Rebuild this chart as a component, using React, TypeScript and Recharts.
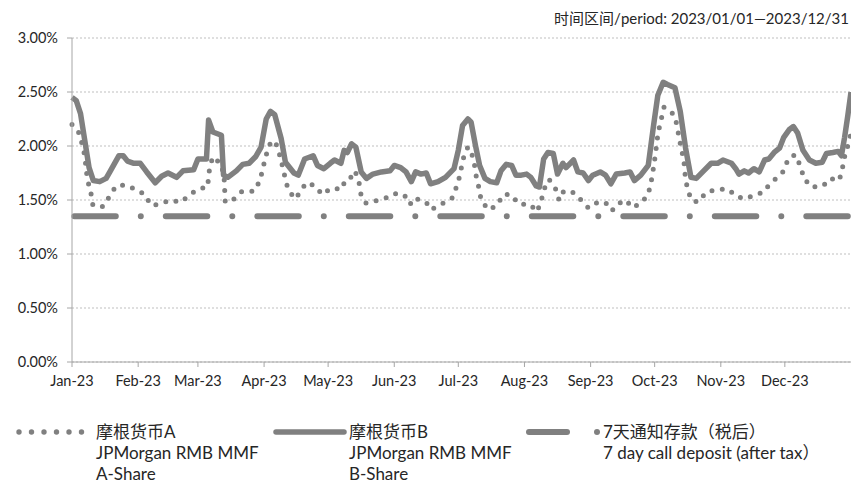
import { CartesianGrid, Line, LineChart, XAxis, YAxis } from 'recharts';

// day of year (0 = 2023-01-01) and yield in %
const bDays = [0, 2, 4, 6, 8, 10, 13, 16, 18, 22, 24, 26, 29, 32, 35, 39, 42, 45, 49, 52, 57, 59, 63, 64, 66, 70, 71, 73, 77, 80, 83, 86, 88.6, 91, 93, 95, 98, 100, 104, 106, 109, 113, 115, 118, 121, 123, 126, 127.5, 129, 131, 133, 135.5, 138, 141, 145, 149, 151, 154, 156.5, 159, 161, 163.5, 166, 168, 171.5, 175, 179, 181, 183, 185.5, 187, 189, 191, 193.5, 196, 199, 201, 203.5, 206, 208, 210.5, 213, 215, 217.5, 219, 221, 223, 225.5, 227.5, 230, 231.5, 235, 237, 239.5, 242, 244, 247.5, 250, 252.5, 255, 259, 261.5, 263.5, 266.5, 270, 272.5, 274.5, 277, 279, 282.5, 285, 287.5, 290, 292.5, 295.5, 299.5, 302.5, 305, 309, 311, 312.5, 315, 317, 319.5, 322, 324.5, 326.5, 329, 331.5, 333.5, 336, 338, 340, 342.5, 345.5, 348.5, 351.5, 353.5, 356.5, 359, 360.5, 362, 363.5, 365];
const bValues = [2.45, 2.42, 2.3, 2.05, 1.8, 1.68, 1.67, 1.7, 1.77, 1.91, 1.91, 1.86, 1.84, 1.84, 1.76, 1.66, 1.72, 1.75, 1.71, 1.77, 1.78, 1.88, 1.88, 2.24, 2.13, 2.1, 1.73, 1.71, 1.77, 1.83, 1.84, 1.9, 1.99, 2.25, 2.32, 2.29, 2.07, 1.85, 1.75, 1.73, 1.88, 1.91, 1.82, 1.79, 1.84, 1.87, 1.84, 1.96, 1.94, 2.02, 1.99, 1.76, 1.7, 1.74, 1.76, 1.77, 1.82, 1.8, 1.76, 1.67, 1.76, 1.74, 1.75, 1.65, 1.67, 1.71, 1.79, 1.96, 2.19, 2.25, 2.22, 2.01, 1.82, 1.7, 1.67, 1.66, 1.77, 1.83, 1.82, 1.73, 1.73, 1.74, 1.71, 1.63, 1.62, 1.88, 1.94, 1.93, 1.74, 1.84, 1.8, 1.87, 1.76, 1.75, 1.68, 1.73, 1.76, 1.73, 1.65, 1.74, 1.75, 1.76, 1.68, 1.73, 1.82, 2.19, 2.47, 2.59, 2.57, 2.54, 2.32, 1.98, 1.71, 1.7, 1.76, 1.84, 1.84, 1.87, 1.84, 1.79, 1.74, 1.77, 1.75, 1.79, 1.76, 1.87, 1.88, 1.94, 1.98, 2.08, 2.15, 2.18, 2.12, 1.96, 1.87, 1.84, 1.85, 1.93, 1.94, 1.95, 1.91, 2.08, 2.28, 2.5];

const aDays = [0, 3.3, 4.7, 6.1, 6.6, 7.5, 8.9, 9.8, 14.5, 17.8, 20.6, 24.8, 29.5, 34.2, 37, 40.8, 45.9, 51, 55.3, 59, 63.5, 64.5, 66, 70, 71.3, 71.8, 75.4, 79.7, 85.3, 88.1, 89.5, 90.9, 92.3, 95.1, 97, 98.4, 99.8, 101.2, 104.5, 106.8, 109.7, 113.9, 117.2, 121.4, 126.5, 127.9, 130.3, 132.6, 134.5, 135.4, 137.8, 142, 147.1, 150.9, 155.6, 158.4, 160.3, 165.9, 168.2, 172.9, 178.1, 179.9, 181.8, 182.8, 184.2, 185.6, 187, 188.4, 189.3, 190.7, 191.7, 195, 199.2, 202, 205.7, 209.5, 214.6, 217.9, 219.8, 221.2, 223.5, 226.3, 228.2, 229.6, 232.4, 235.7, 238.5, 241.8, 244.1, 249.8, 253, 255.4, 259.6, 262.4, 266.6, 269.9, 271.3, 272.3, 273.2, 274.6, 277.4, 282.1, 283.5, 284.5, 285.8, 286.8, 287.3, 288.2, 290.1, 293.4, 297.1, 302.3, 307.4, 311.6, 315.8, 320, 323.8, 326.6, 329.9, 333.6, 335.5, 338.8, 341.2, 343, 346.3, 351.9, 355.2, 359.4, 360.8, 361.7, 363.6, 365];
const aValues = [2.2, 2.12, 2.02, 1.9, 1.78, 1.67, 1.56, 1.45, 1.44, 1.54, 1.63, 1.64, 1.6, 1.55, 1.45, 1.46, 1.5, 1.48, 1.55, 1.6, 1.62, 1.8, 1.9, 1.83, 1.7, 1.48, 1.5, 1.58, 1.58, 1.68, 1.8, 1.91, 2.01, 2.05, 1.94, 1.83, 1.71, 1.6, 1.51, 1.57, 1.66, 1.63, 1.55, 1.61, 1.6, 1.68, 1.7, 1.77, 1.66, 1.55, 1.47, 1.49, 1.52, 1.56, 1.55, 1.46, 1.52, 1.48, 1.41, 1.46, 1.52, 1.61, 1.73, 1.84, 1.95, 1.99, 1.95, 1.85, 1.73, 1.61, 1.5, 1.41, 1.45, 1.55, 1.55, 1.46, 1.46, 1.39, 1.49, 1.6, 1.69, 1.62, 1.5, 1.57, 1.59, 1.56, 1.5, 1.43, 1.47, 1.48, 1.4, 1.46, 1.5, 1.43, 1.47, 1.55, 1.66, 1.78, 1.9, 2.12, 2.36, 2.29, 2.19, 2.07, 1.95, 1.84, 1.73, 1.62, 1.5, 1.48, 1.57, 1.6, 1.6, 1.53, 1.51, 1.55, 1.57, 1.64, 1.7, 1.77, 1.88, 1.92, 1.82, 1.7, 1.62, 1.63, 1.7, 1.68, 1.77, 1.88, 2.01, 2.12];

const depositDays = [0, 365];
const depositValues = [1.35, 1.35];

const monthStarts = [0, 31, 59, 90, 120, 151, 181, 212, 243, 273, 304, 334];
const monthLabels = ['Jan-23', 'Feb-23', 'Mar-23', 'Apr-23', 'May-23', 'Jun-23', 'Jul-23', 'Aug-23', 'Sep-23', 'Oct-23', 'Nov-23', 'Dec-23'];
const yTicks = [0, 0.5, 1, 1.5, 2, 2.5, 3];

const bData = bDays.map((day, i) => ({ day, v: bValues[i] }));
const aData = aDays.map((day, i) => ({ day, v: aValues[i] }));
const depositData = depositDays.map((day, i) => ({ day, v: depositValues[i] }));

const GRAY = '#808080';
const FONT = 'Lato, "Noto Sans CJK SC", sans-serif';
const tickStyle = { fill: '#262626', fontSize: 14.5, fontFamily: FONT };

function LegendRow() {
  const text = { position: 'absolute' as const, fontSize: 17, color: '#262626', lineHeight: '21px', whiteSpace: 'nowrap' as const };
  return (
    <div style={{ position: 'absolute', left: 0, top: 421, width: 851, height: 63, fontFamily: FONT }}>
      <svg width={851} height={24} style={{ position: 'absolute', left: 0, top: 0 }}>
        {[0, 1, 2, 3, 4, 5].map((i) => (
          <circle key={i} cx={19 + i * 12.5} cy={11} r={2.7} fill={GRAY} />
        ))}
        <line x1={276} y1={11} x2={344} y2={11} stroke={GRAY} strokeWidth={5.5} strokeLinecap="round" />
        <line x1={529} y1={11} x2={567} y2={11} stroke={GRAY} strokeWidth={6} strokeLinecap="round" />
        <circle cx={597} cy={11} r={3} fill={GRAY} />
      </svg>
      <div style={{ ...text, left: 96, top: 0 }}>摩根货币A<br />JPMorgan RMB MMF<br />A-Share</div>
      <div style={{ ...text, left: 349, top: 0 }}>摩根货币B<br />JPMorgan RMB MMF<br />B-Share</div>
      <div style={{ ...text, left: 603, top: 0 }}>7天通知存款（税后）<br />7 day call deposit (after tax）</div>
    </div>
  );
}

export default function App() {
  return (
    <div style={{ position: 'absolute', left: 0, top: 0, width: 851, height: 484, background: '#fff', fontFamily: FONT, overflow: 'hidden' }}>
      <div style={{ position: 'absolute', right: 2, top: 7, fontSize: 15, color: '#262626', whiteSpace: 'nowrap' }}>
        时间区间/period: 2023/01/01—2023/12/31
      </div>
      <LineChart width={851} height={484} data={bData} margin={{ top: 38, right: 0, left: 0, bottom: 92 }}>
        <CartesianGrid stroke="#bfbfbf" strokeDasharray="2 2" vertical={false} />
        <XAxis
          dataKey="day"
          type="number"
          domain={[0, 365]}
          ticks={monthStarts}
          tickFormatter={(v) => monthLabels[monthStarts.indexOf(Number(v))] ?? ''}
          interval={0}
          height={30}
          stroke="#a6a6a6"
          tickLine={{ stroke: '#a6a6a6' }}
          tickSize={5}
          tickMargin={9}
          tick={tickStyle}
        />
        <YAxis
          type="number"
          domain={[0, 3]}
          ticks={yTicks}
          tickFormatter={(v) => `${Number(v).toFixed(2)}%`}
          width={72}
          stroke="#a6a6a6"
          tickSize={5}
          tickMargin={9}
          tick={tickStyle}
        />
        <Line data={depositData} dataKey="v" type="linear" stroke={GRAY} strokeWidth={6} strokeLinecap="round" strokeDasharray="41.5 25 0 25" strokeDashoffset={89.2} dot={false} activeDot={false} isAnimationActive={false} />
        <Line data={aData} dataKey="v" type="linear" stroke={GRAY} strokeWidth={5} strokeLinecap="round" strokeLinejoin="round" strokeDasharray="0 10.5" dot={false} activeDot={false} isAnimationActive={false} />
        <Line data={bData} dataKey="v" type="linear" stroke={GRAY} strokeWidth={5.5} strokeLinejoin="round" dot={false} activeDot={false} isAnimationActive={false} />
      </LineChart>
      <LegendRow />
    </div>
  );
}
